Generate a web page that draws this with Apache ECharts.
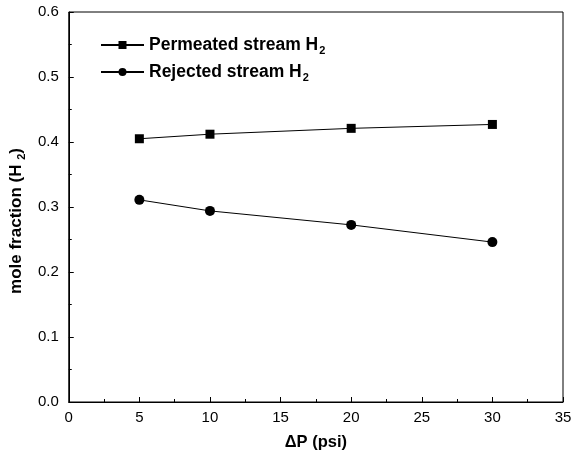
<!DOCTYPE html>
<html><head><meta charset="utf-8">
<script src="https://cdn.jsdelivr.net/npm/echarts@6/dist/echarts.min.js"></script>
<style>html,body{margin:0;padding:0;background:#fff}#c{width:576px;height:462px}</style>
</head><body><div id="c"></div>
<script>
const xValues = [5, 10, 20, 30];
const permeatedH2 = [0.405, 0.412, 0.421, 0.427];
const rejectedH2 = [0.311, 0.294, 0.2725, 0.246];
const seriesNames = ['Permeated stream H', 'Rejected stream H'];

const chart = echarts.init(document.getElementById('c'));
const font = 'Liberation Sans, Arial, sans-serif';
chart.setOption({
  animation: false,
  grid: {left: 65, right: 13, top: 12, bottom: 60, show: true, borderColor: '#000', borderWidth: 1},
  legend: {
    orient: 'vertical', left: 100, top: 36, padding: 0, itemGap: 7, itemWidth: 43, itemHeight: 10,
    data: seriesNames,
    formatter: n => '{m|' + n + '}{s|2}',
    textStyle: {rich: {
      m: {fontFamily: font, fontWeight: 'bold', fontSize: 17.5, color: '#000'},
      s: {fontFamily: font, fontWeight: 'bold', fontSize: 11, color: '#000', padding: [11, 0, 0, 1]}
    }}
  },
  xAxis: {
    type: 'value', min: 0, max: 35, interval: 5,
    name: 'ΔP (psi)', nameLocation: 'middle', nameGap: 32,
    nameTextStyle: {fontFamily: font, fontWeight: 'bold', fontSize: 16.5, color: '#000'},
    axisLine: {lineStyle: {color: '#000', width: 1}},
    axisTick: {inside: true, length: 5, lineStyle: {color: '#000'}},
    minorTick: {show: true, splitNumber: 2, length: 3, lineStyle: {color: '#000'}},
    splitLine: {show: false},
    axisLabel: {fontFamily: font, fontSize: 15, color: '#000', margin: 8}
  },
  yAxis: {
    type: 'value', min: 0, max: 0.6, interval: 0.1,
    name: '{m|mole fraction (H }{s|2}{m|)}', nameLocation: 'middle', nameGap: 41,
    nameTextStyle: {padding: [0, 28, 0, 0], rich: {
      m: {fontFamily: font, fontWeight: 'bold', fontSize: 17, color: '#000'},
      s: {fontFamily: font, fontWeight: 'bold', fontSize: 11, color: '#000', padding: [10, 0, 0, 0]}
    }},
    axisLine: {show: true, lineStyle: {color: '#000', width: 1}},
    axisTick: {inside: true, length: 5, lineStyle: {color: '#000'}},
    minorTick: {show: true, splitNumber: 2, length: 3, lineStyle: {color: '#000'}},
    splitLine: {show: false},
    axisLabel: {fontFamily: font, fontSize: 15, color: '#000', margin: 10, formatter: v => v.toFixed(1)}
  },
  series: [
    {name: seriesNames[0], type: 'line', data: xValues.map((x, i) => [x, permeatedH2[i]]),
     symbol: 'rect', symbolSize: 9, itemStyle: {color: '#000'}, lineStyle: {color: '#000', width: 1}},
    {name: seriesNames[1], type: 'line', data: xValues.map((x, i) => [x, rejectedH2[i]]),
     symbol: 'circle', symbolSize: 10, itemStyle: {color: '#000'}, lineStyle: {color: '#000', width: 1}}
  ]
});
</script></body></html>
